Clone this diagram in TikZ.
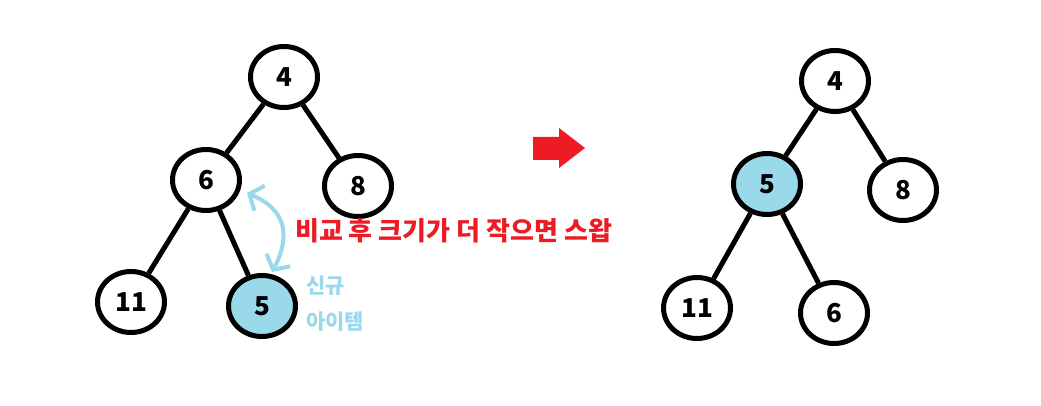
\documentclass[tikz,border=0pt]{standalone}
\usepackage{fontspec}
\setmainfont{Noto Sans CJK KR}
\usetikzlibrary{shapes.geometric,arrows.meta}
\definecolor{lblue}{HTML}{99D9EA}
\definecolor{hred}{HTML}{ED1C24}
\begin{document}
\begin{tikzpicture}[x=1pt,y=-1pt,
  heapnode/.style={ellipse, draw, line width=5pt, minimum width=67pt, minimum height=61pt, inner sep=0pt, font=\fontsize{26}{26}\selectfont\bfseries},
  newnode/.style={heapnode, fill=lblue},
  edge/.style={line width=5pt},
  redtxt/.style={anchor=west, inner sep=0pt, text=hred, font=\fontsize{26}{26}\selectfont\bfseries},
  bluetxt/.style={anchor=west, inner sep=0pt, text=lblue, font=\fontsize{21}{21}\selectfont\bfseries},
  swaparrow/.style={lblue, line width=4pt, {Straight Barb[length=11pt,width=27pt]}-{Straight Barb[length=11pt,width=27pt]}}
]
\useasboundingbox[fill=white] (0,0) rectangle (1041,406);

% left tree
\node[heapnode] (a4) at (284,77) {4};
\node[heapnode] (a6) at (206,180) {6};
\node[heapnode] (a8) at (358,186) {8};
\node[heapnode] (a11) at (131,302) {11};
\node[newnode] (a5) at (262,306) {5};
\draw[edge] (a4) -- (a6);
\draw[edge] (a4) -- (a8);
\draw[edge] (a6) -- (a11);
\draw[edge] (a6) -- (a5);

% swap annotation
\coordinate (s1) at (247,193);
\coordinate (s2) at (272,272);
\draw[swaparrow] (s1) .. controls (288,210) and (290,238) .. (s2);
\node[redtxt] (cmp) at (295,231) {비교 후 크기가 더 작으면 스왑};
\node[bluetxt] (new1) at (306,286) {신규};
\node[bluetxt] (new2) at (306,322) {아이템};

% red arrow
\fill[hred] (533,137) -- (559,137) -- (559,128) -- (585,148) -- (559,168) -- (559,160) -- (533,160) -- cycle;

% right tree
\node[heapnode] (b4) at (835,81) {4};
\node[newnode] (b5) at (767,184) {5};
\node[heapnode] (b8) at (903,190) {8};
\node[heapnode] (b11) at (697,308) {11};
\node[heapnode] (b6) at (834,313) {6};
\draw[edge] (b4) -- (b5);
\draw[edge] (b4) -- (b8);
\draw[edge] (b5) -- (b11);
\draw[edge] (b5) -- (b6);
\end{tikzpicture}
\end{document}
